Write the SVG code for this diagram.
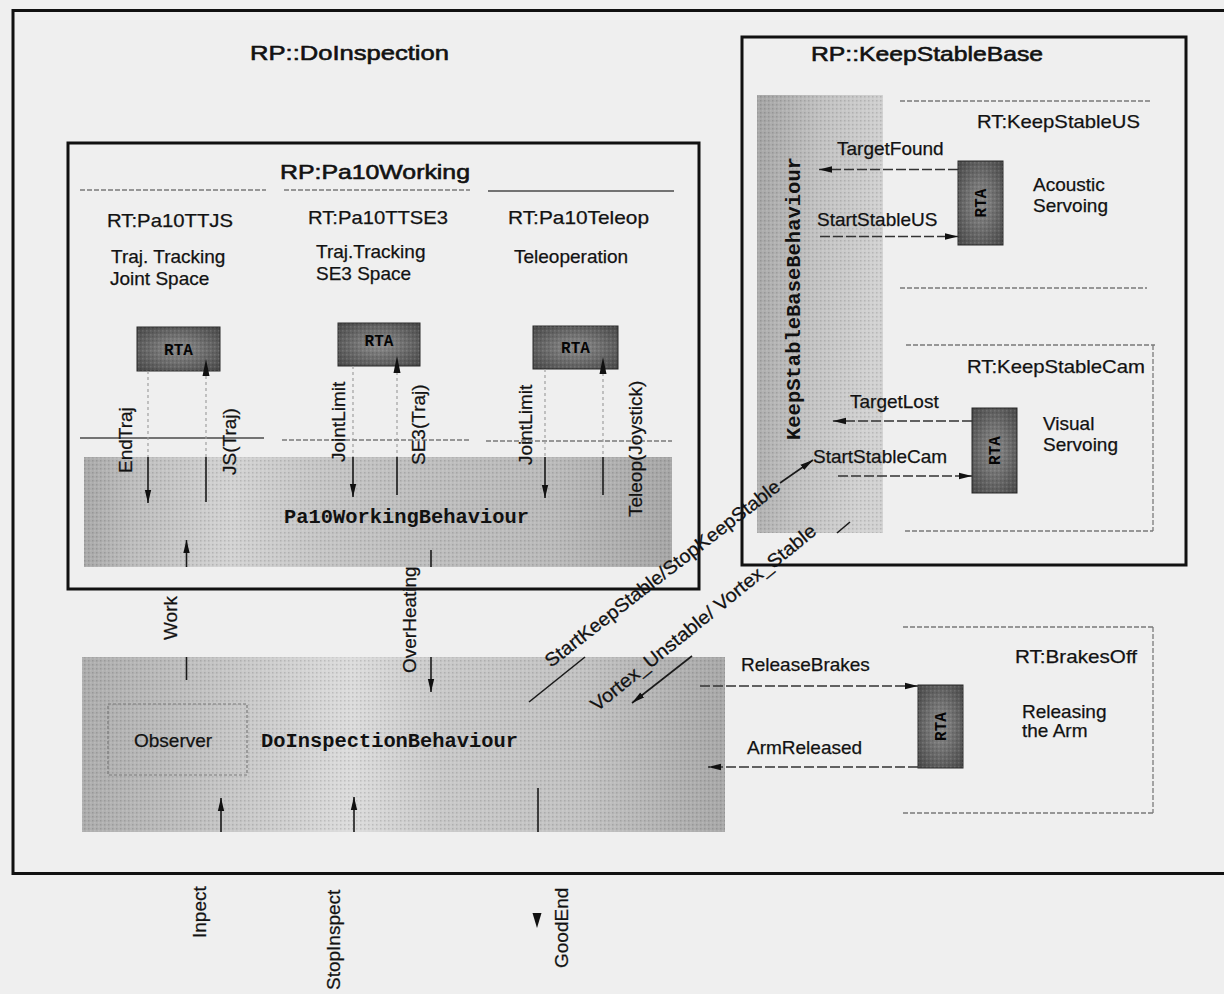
<svg xmlns="http://www.w3.org/2000/svg" width="1224" height="994" viewBox="0 0 1224 994">
<defs>
<style>
text{font-family:"Liberation Sans",Arial,Helvetica,sans-serif;font-size:19px;fill:#121212;stroke:#121212;stroke-width:0.25}
.ttl{font-size:21px;stroke-width:0.6}
.mono{font-family:"Liberation Mono","Courier New",monospace;font-weight:bold;font-size:20px;fill:#111;stroke:none}
.rtat{font-family:"Liberation Mono","Courier New",monospace;font-weight:bold;font-size:16px;fill:#050505;stroke:none}
.frame{fill:none;stroke:#111;stroke-width:3}
.sep{fill:none;stroke:#7a7a7a;stroke-width:1.3;stroke-dasharray:5 2}
.sepd{fill:none;stroke:#4a4a4a;stroke-width:1.3}
.faint{fill:none;stroke:#a0a0a0;stroke-width:1.2;stroke-dasharray:3 3}
.sig{fill:none;stroke:#1a1a1a;stroke-width:1.6}
.sigd{fill:none;stroke:#333;stroke-width:1.4;stroke-dasharray:10 3}
.rta{fill:url(#gRta);stroke:#2a2a2a;stroke-width:1}
.ah{fill:#111}
.grain{fill:url(#grain)}
</style>
<marker id="ah" markerUnits="userSpaceOnUse" markerWidth="14" markerHeight="8" refX="13" refY="4" orient="auto"><path d="M0,0.8 L13,4 L0,7.2 z" fill="#111"/></marker>
<linearGradient id="gPa" x1="0" y1="0" x2="1" y2="0">
<stop offset="0" stop-color="#a9a9a9"/><stop offset="0.08" stop-color="#bdbdbd"/><stop offset="0.25" stop-color="#d3d3d3"/><stop offset="0.4" stop-color="#c6c6c6"/><stop offset="0.55" stop-color="#bfbfbf"/><stop offset="0.8" stop-color="#bababa"/><stop offset="1" stop-color="#a6a6a6"/>
</linearGradient>
<linearGradient id="gDo" x1="0" y1="0" x2="1" y2="0">
<stop offset="0" stop-color="#adadad"/><stop offset="0.2" stop-color="#c3c3c3"/><stop offset="0.42" stop-color="#dcdcdc"/><stop offset="0.56" stop-color="#c9c9c9"/><stop offset="0.78" stop-color="#c2c2c2"/><stop offset="1" stop-color="#a8a8a8"/>
</linearGradient>
<linearGradient id="gKs" x1="0" y1="0" x2="1" y2="0.25">
<stop offset="0" stop-color="#a4a4a4"/><stop offset="0.5" stop-color="#c2c2c2"/><stop offset="1" stop-color="#d2d2d2"/>
</linearGradient>
<radialGradient id="gRta" cx="0.5" cy="0.5" r="0.7">
<stop offset="0" stop-color="#8e8e8e"/><stop offset="1" stop-color="#474747"/>
</radialGradient>
<pattern id="grain" width="4" height="4" patternUnits="userSpaceOnUse">
<rect x="0" y="0" width="1.5" height="1.5" fill="#000" fill-opacity="0.13"/><rect x="2" y="2" width="1.5" height="1.5" fill="#fff" fill-opacity="0.12"/>
</pattern>
</defs>

<rect x="0" y="0" width="1224" height="994" fill="#efefef"/>

<g id="RP_DoInspection">
<rect class="frame" x="13" y="10.5" width="1222" height="863"/>
<text class="ttl" x="250" y="60" textLength="199" lengthAdjust="spacingAndGlyphs">RP::DoInspection</text>
</g>

<g id="RP_Pa10Working">
<rect class="frame" x="68" y="143" width="631" height="446"/>
<text class="ttl" x="280" y="179" textLength="190" lengthAdjust="spacingAndGlyphs">RP:Pa10Working</text>
<line class="sep" x1="80" y1="190" x2="266" y2="190"/>
<line class="sep" x1="284" y1="190" x2="470" y2="190"/>
<line class="sepd" x1="488" y1="191" x2="674" y2="191"/>
<line class="sepd" x1="80" y1="438" x2="264" y2="438"/>
<line class="sep" x1="282" y1="440" x2="470" y2="440"/>
<line class="sep" x1="486" y1="441" x2="672" y2="441"/>
</g>

<g id="RT_Pa10TTJS">
<text x="107" y="227" textLength="126" lengthAdjust="spacingAndGlyphs">RT:Pa10TTJS</text>
<text x="111" y="263">Traj. Tracking</text>
<text x="110" y="285">Joint Space</text>
<rect class="rta" x="137" y="327" width="83" height="44"/>
<rect class="grain" x="137" y="327" width="83" height="44"/>
<text class="rtat" x="178.5" y="355" text-anchor="middle">RTA</text>
</g>

<g id="RT_Pa10TTSE3">
<text x="308" y="224" textLength="140" lengthAdjust="spacingAndGlyphs">RT:Pa10TTSE3</text>
<text x="316" y="258">Traj.Tracking</text>
<text x="316" y="280">SE3 Space</text>
<rect class="rta" x="338" y="323" width="82" height="43"/>
<rect class="grain" x="338" y="323" width="82" height="43"/>
<text class="rtat" x="379" y="346" text-anchor="middle">RTA</text>
</g>

<g id="RT_Pa10Teleop">
<text x="508" y="224" textLength="141" lengthAdjust="spacingAndGlyphs">RT:Pa10Teleop</text>
<text x="514" y="263">Teleoperation</text>
<rect class="rta" x="533" y="326" width="85" height="43"/>
<rect class="grain" x="533" y="326" width="85" height="43"/>
<text class="rtat" x="575.5" y="353" text-anchor="middle">RTA</text>
</g>

<g id="Pa10WorkingBehaviour">
<rect x="84" y="457" width="588" height="110" fill="url(#gPa)"/>
<rect class="grain" x="84" y="457" width="588" height="110"/>
<text class="mono" x="284" y="523" textLength="245" lengthAdjust="spacingAndGlyphs">Pa10WorkingBehaviour</text>
</g>

<g id="DoInspectionBehaviour">
<rect x="82" y="657" width="643" height="175" fill="url(#gDo)"/>
<rect class="grain" x="82" y="657" width="643" height="175"/>
<rect x="108" y="704" width="139" height="71" fill="none" stroke="#7a7a7a" stroke-width="1.2" stroke-dasharray="3 2"/>
<text x="134" y="747">Observer</text>
<text class="mono" x="261" y="747" textLength="257" lengthAdjust="spacingAndGlyphs">DoInspectionBehaviour</text>
</g>

<g id="RP_KeepStableBase">
<rect class="frame" x="742" y="37" width="444" height="528"/>
<text class="ttl" x="811" y="61" textLength="232" lengthAdjust="spacingAndGlyphs">RP::KeepStableBase</text>
</g>

<g id="KeepStableBaseBehaviour">
<rect x="757" y="95" width="126" height="438" fill="url(#gKs)"/>
<rect class="grain" x="757" y="95" width="126" height="438"/>
<text class="mono" transform="translate(800,440) rotate(-90)" textLength="283" lengthAdjust="spacingAndGlyphs">KeepStableBaseBehaviour</text>
</g>

<g id="RT_KeepStableUS">
<line class="sep" x1="900" y1="101" x2="1150" y2="101"/>
<line class="sep" x1="900" y1="288" x2="1147" y2="288"/>
<text x="977" y="128" textLength="163" lengthAdjust="spacingAndGlyphs">RT:KeepStableUS</text>
<rect class="rta" x="958" y="161" width="45" height="84"/>
<rect class="grain" x="958" y="161" width="45" height="84"/>
<text class="rtat" transform="translate(986,203) rotate(-90)" text-anchor="middle">RTA</text>
<text x="1033" y="191">Acoustic</text>
<text x="1033" y="212">Servoing</text>
</g>

<g id="RT_KeepStableCam">
<line class="sep" x1="906" y1="345" x2="1155" y2="345"/>
<line class="sep" x1="1153" y1="345" x2="1153" y2="531"/>
<line class="sep" x1="905" y1="531" x2="1153" y2="531"/>
<text x="967" y="373" textLength="178" lengthAdjust="spacingAndGlyphs">RT:KeepStableCam</text>
<rect class="rta" x="972" y="408" width="45" height="85"/>
<rect class="grain" x="972" y="408" width="45" height="85"/>
<text class="rtat" transform="translate(1000,450.5) rotate(-90)" text-anchor="middle">RTA</text>
<text x="1043" y="430">Visual</text>
<text x="1043" y="451">Servoing</text>
</g>

<g id="RT_BrakesOff">
<line class="sep" x1="903" y1="627" x2="1153" y2="627"/>
<line class="sep" x1="1153" y1="627" x2="1153" y2="813"/>
<line class="sep" x1="903" y1="813" x2="1153" y2="813"/>
<text x="1015" y="663" textLength="122" lengthAdjust="spacingAndGlyphs">RT:BrakesOff</text>
<rect class="rta" x="918" y="685" width="45" height="83"/>
<rect class="grain" x="918" y="685" width="45" height="83"/>
<text class="rtat" transform="translate(946,726.5) rotate(-90)" text-anchor="middle">RTA</text>
<text x="1022" y="718">Releasing</text>
<text x="1022" y="737">the Arm</text>
</g>

<g id="connectors">
<line class="faint" x1="148" y1="371" x2="148" y2="457"/>
<line class="sig" x1="148" y1="457" x2="148" y2="503" marker-end="url(#ah)"/>
<text transform="translate(131.5,473) rotate(-90)">EndTraj</text>

<line class="faint" x1="206" y1="376" x2="206" y2="457"/>
<line class="sig" x1="206" y1="502" x2="206" y2="457"/>
<polygon class="ah" points="206,359 209.5,376 202.5,376"/>
<text transform="translate(236,475) rotate(-90)">JS(Traj)</text>

<line class="faint" x1="353" y1="366" x2="353" y2="457"/>
<line class="sig" x1="353" y1="457" x2="353" y2="497" marker-end="url(#ah)"/>
<text transform="translate(345,462) rotate(-90)">JointLimit</text>

<line class="faint" x1="397" y1="372" x2="397" y2="457"/>
<line class="sig" x1="397" y1="495" x2="397" y2="457"/>
<polygon class="ah" points="397,356 400.5,373 393.5,373"/>
<text transform="translate(425,465) rotate(-90)">SE3(Traj)</text>

<line class="faint" x1="545" y1="369" x2="545" y2="457"/>
<line class="sig" x1="545" y1="457" x2="545" y2="498" marker-end="url(#ah)"/>
<text transform="translate(532,465) rotate(-90)">JointLimit</text>

<line class="faint" x1="603" y1="373" x2="603" y2="457"/>
<line class="sig" x1="603" y1="495" x2="603" y2="457"/>
<polygon class="ah" points="603,357 606.5,374 599.5,374"/>
<text transform="translate(642,517) rotate(-90)">Teleop(Joystick)</text>

<line class="sig" x1="186.5" y1="567" x2="186.5" y2="540" marker-end="url(#ah)"/>
<line class="sig" x1="186.5" y1="680" x2="186.5" y2="657"/>
<text transform="translate(177,640) rotate(-90)">Work</text>

<line class="sig" x1="431" y1="550" x2="431" y2="567"/>
<line class="sig" x1="431" y1="657" x2="431" y2="692" marker-end="url(#ah)"/>
<text transform="translate(416,673) rotate(-90)">OverHeating</text>

<line class="sig" x1="221" y1="832" x2="221" y2="798" marker-end="url(#ah)"/>
<text transform="translate(206,938) rotate(-90)">Inpect</text>
<line class="sig" x1="354" y1="832" x2="354" y2="797" marker-end="url(#ah)"/>
<text transform="translate(340,990) rotate(-90)">StopInspect</text>
<line class="sig" x1="538" y1="788" x2="538" y2="832"/>
<polygon class="ah" points="532.5,913 541.5,913 537,928"/>
<text transform="translate(568,968) rotate(-90)">GoodEnd</text>

<line class="sig" x1="529" y1="702" x2="585" y2="657"/>
<line class="sig" x1="780" y1="483" x2="813" y2="460" marker-end="url(#ah)"/>
<text transform="translate(551,668) rotate(-37.8)" textLength="292" lengthAdjust="spacingAndGlyphs">StartKeepStable/StopKeepStable</text>

<line class="sig" x1="850" y1="522" x2="837" y2="533"/>
<line class="sig" x1="692" y1="656" x2="632" y2="703" marker-end="url(#ah)"/>
<text transform="translate(597,712) rotate(-39)" textLength="284" lengthAdjust="spacingAndGlyphs">Vortex_Unstable/ Vortex_Stable</text>

<line class="sigd" x1="958" y1="169.5" x2="819" y2="169.5" marker-end="url(#ah)"/>
<text x="837" y="155">TargetFound</text>
<line class="sigd" x1="820" y1="236.5" x2="958" y2="236.5" marker-end="url(#ah)"/>
<text x="817" y="226">StartStableUS</text>
<line class="sigd" x1="972" y1="421" x2="833" y2="421" marker-end="url(#ah)"/>
<text x="850" y="408">TargetLost</text>
<line class="sigd" x1="838" y1="476" x2="972" y2="476" marker-end="url(#ah)"/>
<text x="813" y="463">StartStableCam</text>

<line class="sigd" x1="700" y1="686" x2="918" y2="686" marker-end="url(#ah)"/>
<text x="741" y="671">ReleaseBrakes</text>
<line class="sigd" x1="918" y1="767" x2="708" y2="767" marker-end="url(#ah)"/>
<text x="747" y="754">ArmReleased</text>
</g>
</svg>
